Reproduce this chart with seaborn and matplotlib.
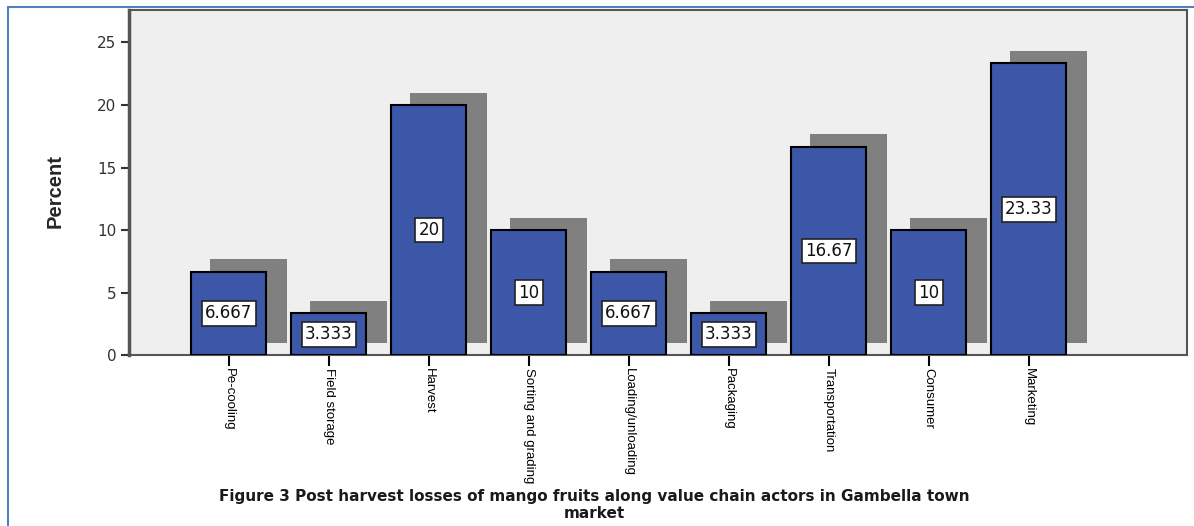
import numpy as np
import pandas as pd
import matplotlib
matplotlib.use('Agg')
import matplotlib.pyplot as plt
import seaborn as sns
from matplotlib.lines import Line2D

# ===== DATA =====
stages = ['Pe-cooling', 'Field storage', 'Harvest', 'Sorting and grading',
          'Loading/unloading', 'Packaging', 'Transportation', 'Consumer',
          'Marketing']
percent = [6.667, 3.333, 20, 10, 6.667, 3.333, 16.67, 10, 23.33]
value_labels = ['6.667', '3.333', '20', '10', '6.667', '3.333', '16.67',
                '10', '23.33']
y_ticks = [0, 5, 10, 15, 20, 25]
caption = ('Figure 3 Post harvest losses of mango fruits along value chain '
           'actors in Gambella town\nmarket')
# ================

BAR_COLOR = '#3c56a8'
SHADOW_COLOR = '#808080'
BG_COLOR = '#efefef'

sns.set_style("white")
plt.rcParams['font.family'] = ['DejaVu Sans']

df = pd.DataFrame({'Stage': stages, 'Percent': percent})

fig = plt.figure(figsize=(11.94, 5.26), dpi=100)
ax = fig.add_axes([0.108, 0.325, 0.886, 0.656])
ax.set_facecolor(BG_COLOR)

# drop shadow behind the bars (offset right and up)
pos = np.arange(len(stages))
ax.bar(pos + 0.2, df['Percent'], bottom=1, width=0.77,
       color=SHADOW_COLOR, linewidth=0, zorder=1)

sns.barplot(data=df, x='Stage', y='Percent', color=BAR_COLOR, saturation=1,
            width=0.75, edgecolor='black', linewidth=1.5, zorder=3, ax=ax)

# value boxes in the middle of each bar
for i, (v, lab) in enumerate(zip(percent, value_labels)):
    ax.text(i, v / 2, lab, ha='center', va='center', fontsize=12,
            family='DejaVu Sans', color='#111111', zorder=5,
            bbox=dict(boxstyle='square,pad=0.2', facecolor='white',
                      edgecolor='#222222', linewidth=1.2))

ax.set_xlim(-1.0, 9.58)
ax.set_ylim(0, 27.6)
ax.set_yticks(y_ticks)
ax.set_yticklabels([str(t) for t in y_ticks], fontsize=11, color='#333333')
ax.set_xticks(pos)
ax.set_xticklabels(stages, rotation=270, fontsize=9.5, va='top', ha='center',
                   family=['Liberation Sans', 'DejaVu Sans'], color='black')
ax.tick_params(axis='x', length=8, width=1.5, color='black', pad=1,
               direction='out', bottom=True)
ax.tick_params(axis='y', length=6, width=1.5, color='#333333', pad=3,
               direction='out', left=True)
ax.set_xlabel('')
ax.set_ylabel('Percent', fontsize=14.5, fontweight='bold',
              family=['Liberation Sans', 'DejaVu Sans'])
ax.yaxis.set_label_coords(-0.061, 0.475)

for side in ['top', 'right', 'bottom', 'left']:
    ax.spines[side].set_visible(True)
    ax.spines[side].set_color('#555555')
    ax.spines[side].set_linewidth(1.5)
ax.spines['left'].set_linewidth(2.5)

# caption under the chart, two lines
cap_lines = caption.split('\n')
fig.text(0.4975, 1 - 497 / 526, cap_lines[0], ha='center', va='center',
         fontsize=11, fontweight='bold', color='#1a1a1a')
fig.text(0.4975, 1 - 513 / 526, cap_lines[1], ha='center', va='center',
         fontsize=11, fontweight='bold', color='#1a1a1a')

# blue page border (left and top)
fig.add_artist(Line2D([8 / 1194, 8 / 1194], [0, 1 - 7 / 526],
                      transform=fig.transFigure, color='#4f81bd', lw=1.5))
fig.add_artist(Line2D([8 / 1194, 1], [1 - 7 / 526, 1 - 7 / 526],
                      transform=fig.transFigure, color='#4f81bd', lw=1.5))

plt.savefig('out.png', dpi=100)
plt.close()
